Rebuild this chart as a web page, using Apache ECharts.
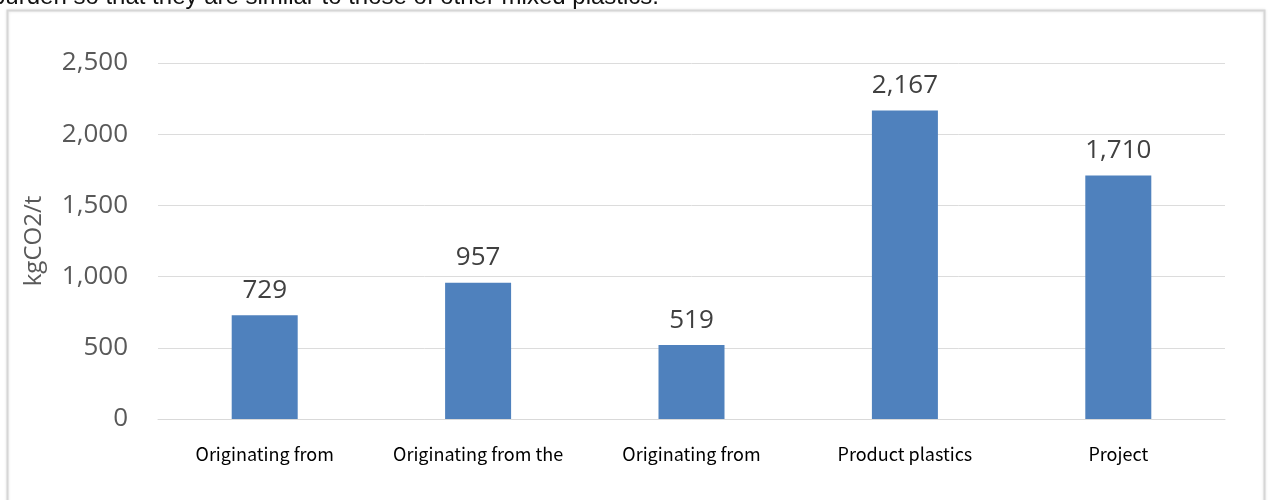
<!DOCTYPE html>
<html>
<head>
<meta charset="utf-8">
<script src="https://cdn.jsdelivr.net/npm/echarts@6/dist/echarts.min.js"></script>
<style>
  html, body { margin: 0; padding: 0; background: #ffffff; }
  #chart { width: 1271px; height: 500px; }
</style>
</head>
<body>
<div id="chart"></div>
<script>
// CO2 emission intensity by origin of plastics
const categories = [
  'Originating from',
  'Originating from the',
  'Originating from',
  'Product plastics',
  'Project'
];
const emissions = [729, 957, 519, 2167, 1710];
const yTicks = { min: 0, max: 2500, interval: 500 };
const yAxisName = 'kgCO2/t';
const bodyText = 'burden so that they are similar to those of other mixed plastics.';

const chart = echarts.init(document.getElementById('chart'), null, { renderer: 'canvas' });

const fmt = v => v.toLocaleString('en-US');

chart.setOption({
  animation: false,
  backgroundColor: '#ffffff',
  graphic: [
    {
      type: 'text',
      left: -8,
      top: -15,
      style: {
        text: bodyText,
        font: '24px "Liberation Sans", Arial, sans-serif',
        fill: '#111111'
      }
    },
    {
      type: 'rect',
      shape: { x: 7.5, y: 10.5, width: 1257, height: 520 },
      style: {
        fill: 'rgba(0,0,0,0)',
        stroke: '#d6d6d6',
        lineWidth: 2,
        shadowColor: 'rgba(0,0,0,0.12)',
        shadowBlur: 3
      },
      z: 0
    }
  ],
  grid: {
    left: 158,
    right: 46,
    top: 63,
    bottom: 81,
    containLabel: false
  },
  xAxis: {
    type: 'category',
    data: categories,
    axisLine: { show: true, lineStyle: { color: '#d9d9d9', width: 1 } },
    axisTick: { show: false },
    axisLabel: {
      margin: 26,
      color: '#000000',
      fontSize: 18,
      fontFamily: '"Noto Sans CJK JP", "Noto Sans", sans-serif',
      interval: 0
    }
  },
  yAxis: {
    type: 'value',
    min: yTicks.min,
    max: yTicks.max,
    interval: yTicks.interval,
    name: yAxisName,
    nameLocation: 'middle',
    nameGap: 112,
    nameRotate: 90,
    nameTextStyle: {
      color: '#595959',
      fontSize: 24,
      fontFamily: '"Open Sans", sans-serif'
    },
    axisLine: { show: false },
    axisTick: { show: false },
    splitLine: { lineStyle: { color: '#dcdcdc', width: 1 } },
    axisLabel: {
      margin: 30,
      color: '#595959',
      fontSize: 26,
      fontFamily: '"Open Sans", sans-serif',
      formatter: v => fmt(v)
    }
  },
  series: [
    {
      type: 'bar',
      data: emissions,
      barWidth: 66,
      itemStyle: { color: '#4F81BD' },
      label: {
        show: true,
        position: 'top',
        distance: 12,
        color: '#404040',
        fontSize: 26,
        fontFamily: '"Open Sans", sans-serif',
        formatter: p => fmt(p.value)
      }
    }
  ]
});
</script>
</body>
</html>
